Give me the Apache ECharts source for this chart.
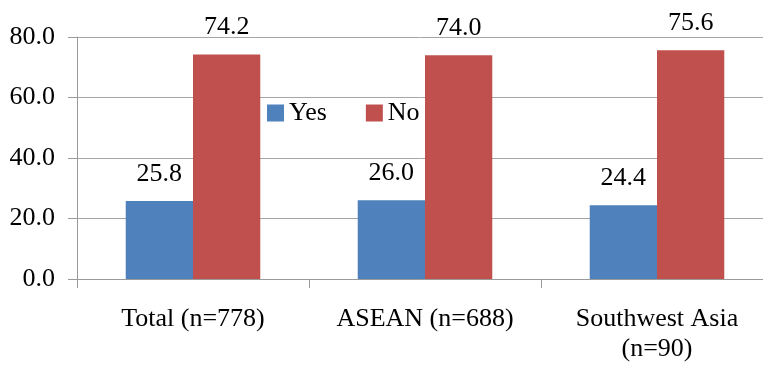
<!DOCTYPE html>
<html>
<head>
<meta charset="utf-8">
<script src="https://cdn.jsdelivr.net/npm/echarts@6/dist/echarts.min.js"></script>
<style>
  html, body { margin: 0; padding: 0; background: #fff; }
  #chart { width: 763px; height: 365px; }
</style>
</head>
<body>
<div id="chart"></div>
<script>
// Share of respondents answering Yes / No, by region (percent)
const categories = ['Total (n=778)', 'ASEAN (n=688)', 'Southwest Asia\n(n=90)'];
const yesValues = [25.8, 26.0, 24.4];
const noValues = [74.2, 74.0, 75.6];
const seriesNames = ['Yes', 'No'];

const FONT = '"Liberation Serif", "Times New Roman", serif';
const chart = echarts.init(document.getElementById('chart'), null, { renderer: 'canvas' });

const labelStyle = {
  show: true,
  position: 'top',
  distance: 14,
  color: '#000',
  fontFamily: FONT,
  fontSize: 26,
  formatter: p => p.value.toFixed(1)
};

chart.setOption({
  animation: false,
  backgroundColor: '#fff',
  textStyle: { fontFamily: FONT },
  legend: {
    data: seriesNames,
    left: 267,
    top: 100,
    padding: 0,
    itemWidth: 17,
    itemHeight: 17,
    itemGap: 39,
    icon: 'rect',
    z: 1,
    textStyle: { fontFamily: FONT, fontSize: 26, color: '#000' }
  },
  // plot area runs slightly past the right edge of the canvas
  grid: {
    left: 77, width: 696, top: 37, bottom: 86,
    containLabel: false,
    outerBoundsMode: 'none'
  },
  xAxis: {
    type: 'category',
    data: categories,
    boundaryGap: true,
    axisLine: { lineStyle: { color: '#9a9a9a', width: 1 } },
    axisTick: { show: true, length: 9, lineStyle: { color: '#9a9a9a' } },
    axisLabel: {
      interval: 0,
      hideOverlap: false,
      color: '#000',
      fontFamily: FONT,
      fontSize: 26,
      lineHeight: 30,
      margin: 25
    }
  },
  yAxis: {
    type: 'value',
    min: 0,
    max: 80,
    interval: 20,
    axisLine: { show: true, lineStyle: { color: '#9a9a9a', width: 1 } },
    axisTick: { show: true, length: 9, lineStyle: { color: '#9a9a9a' } },
    splitLine: { show: true, lineStyle: { color: '#a6a6a6', width: 1 } },
    axisLabel: {
      color: '#000',
      fontFamily: FONT,
      fontSize: 26,
      margin: 22,
      formatter: v => v.toFixed(1)
    }
  },
  series: [
    {
      name: seriesNames[0],
      type: 'bar',
      data: yesValues,
      barWidth: '29%',
      barGap: '0%',
      z: 2,
      itemStyle: { color: '#4F81BD' },
      label: labelStyle
    },
    {
      name: seriesNames[1],
      type: 'bar',
      data: noValues,
      barWidth: '29%',
      barGap: '0%',
      z: 2,
      itemStyle: { color: '#C0504D' },
      label: labelStyle
    }
  ]
});
</script>
</body>
</html>
